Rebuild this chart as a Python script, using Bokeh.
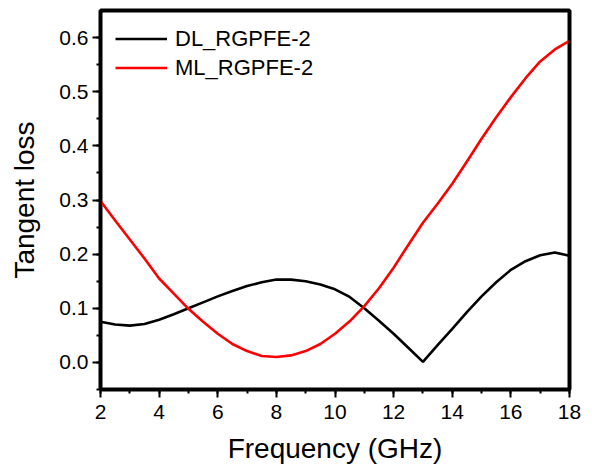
from bokeh.plotting import figure
from bokeh.embed import file_html
from bokeh.resources import INLINE
from bokeh.models import Range1d, PrintfTickFormatter, FixedTicker, BoxAnnotation

freq = [2.0, 2.5, 3.0, 3.5, 4.0, 4.5, 5.0, 5.5, 6.0, 6.5, 7.0, 7.5, 8.0, 8.5, 9.0,
        9.5, 10.0, 10.5, 11.0, 11.5, 12.0, 12.5, 13.0, 13.5, 14.0, 14.5, 15.0,
        15.5, 16.0, 16.5, 17.0, 17.5, 18.0]
dl_rgpfe2 = [0.075, 0.070, 0.068, 0.071, 0.079, 0.089, 0.100, 0.111, 0.122, 0.132,
             0.141, 0.148, 0.153, 0.153, 0.150, 0.144, 0.135, 0.121, 0.100, 0.077,
             0.053, 0.027, 0.001, 0.032, 0.062, 0.093, 0.122, 0.148, 0.171, 0.187,
             0.198, 0.203, 0.197]
ml_rgpfe2 = [0.298, 0.262, 0.227, 0.192, 0.155, 0.127, 0.099, 0.075, 0.053, 0.034,
             0.021, 0.012, 0.010, 0.013, 0.021, 0.034, 0.053, 0.076, 0.104, 0.137,
             0.175, 0.217, 0.258, 0.293, 0.330, 0.371, 0.413, 0.453, 0.490, 0.525,
             0.556, 0.578, 0.594]
x_ticks = [2, 4, 6, 8, 10, 12, 14, 16, 18]
y_ticks = [0.0, 0.1, 0.2, 0.3, 0.4, 0.5, 0.6]

FONT = "Liberation Sans"
X0, X1, Y0, Y1 = 2, 18, -0.05, 0.65

p = figure(width=592, height=468, output_backend="svg", toolbar_location=None,
           x_range=Range1d(X0, X1), y_range=Range1d(Y0, Y1),
           min_border_left=100, min_border_right=23, min_border_top=10, min_border_bottom=79)
p.grid.visible = False
p.background_fill_color = "white"
p.border_fill_color = "white"
p.outline_line_color = "black"
p.outline_line_width = 4
p.outline_line_alpha = 1

p.line(freq, dl_rgpfe2, line_color="black", line_width=2.6, legend_label="DL_RGPFE-2")
p.line(freq, ml_rgpfe2, line_color="#ff0000", line_width=2.6, legend_label="ML_RGPFE-2")

# inner half of the frame border (annotation spans the whole plotting area)
p.add_layout(BoxAnnotation(fill_alpha=0, line_color="black", line_width=2, line_alpha=1))

p.xaxis.ticker = FixedTicker(ticks=x_ticks, minor_ticks=list(range(2, 19)))
p.yaxis.ticker = FixedTicker(ticks=y_ticks, minor_ticks=[round(-0.05 + 0.05 * i, 2) for i in range(14)])
p.yaxis.formatter = PrintfTickFormatter(format="%.1f")

for ax in (p.xaxis, p.yaxis):
    ax.axis_line_width = 2
    ax.axis_line_color = "black"
    ax.major_tick_line_width = 2
    ax.minor_tick_line_width = 2
    ax.major_tick_out = 8
    ax.major_tick_in = 0
    ax.minor_tick_out = 4
    ax.minor_tick_in = 0
    ax.major_label_text_font = FONT
    ax.major_label_text_font_size = "21px"
    ax.major_label_text_color = "black"
    ax.axis_label_text_font = FONT
    ax.axis_label_text_font_size = "28px"
    ax.axis_label_text_font_style = "normal"
    ax.axis_label_text_color = "black"

p.xaxis.major_label_standoff = 7
p.yaxis.major_label_standoff = 4
p.xaxis.axis_label = "Frequency (GHz)"
p.yaxis.axis_label = "Tangent loss"
p.xaxis.axis_label_standoff = 11
p.yaxis.axis_label_standoff = 16

leg = p.legend[0]
leg.location = "top_left"
leg.border_line_color = None
leg.background_fill_alpha = 0
leg.margin = 15
leg.padding = 15
leg.spacing = 2
leg.glyph_width = 52
leg.glyph_height = 27
leg.label_height = 27
leg.label_standoff = 8
leg.label_text_font = FONT
leg.label_text_font_size = "22px"
leg.label_text_color = "black"

open("out.html", "w").write(file_html(p, INLINE))
